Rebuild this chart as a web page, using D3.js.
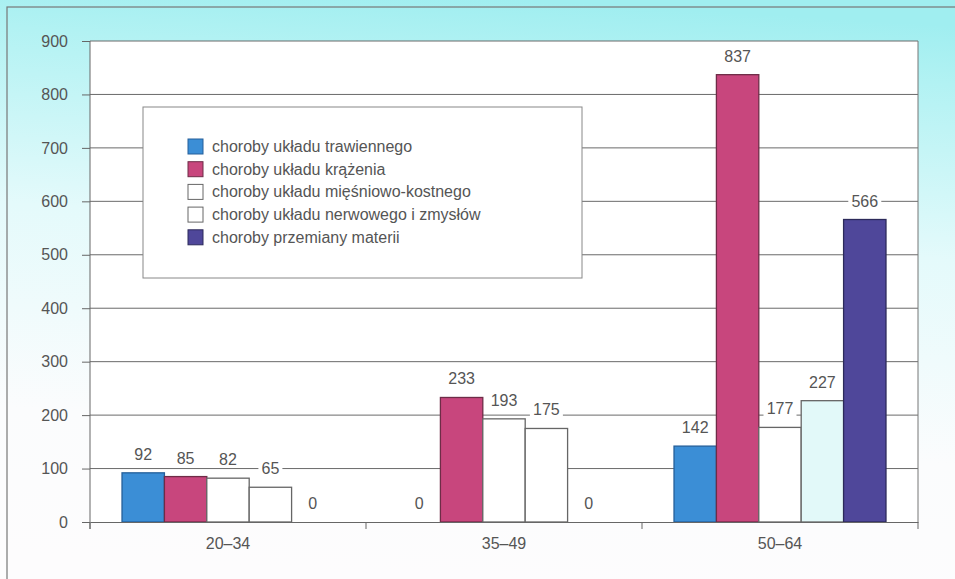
<!DOCTYPE html>
<html>
  <head>
    <meta charset="utf-8">
    <script src="https://d3js.org/d3.v7.min.js"></script>
    <style>
      body { margin: 0; background: #fff; }
      svg text {
        font-family: "Liberation Sans", Arial, sans-serif;
        font-size: 16px;
        fill: #555;
      }
    </style>
  </head>
  <body>
    <div id="chart"></div>
    <script>
      // age groups and disease series
      const groups = ["20–34", "35–49", "50–64"];
      const seriesNames = [
        "choroby układu trawiennego",
        "choroby układu krążenia",
        "choroby układu mięśniowo-kostnego",
        "choroby układu nerwowego i zmysłów",
        "choroby przemiany materii"
      ];
      const trawienny = [92, 0, 142];
      const krazenia = [85, 233, 837];
      const miesniowy = [82, 193, 177];
      const nerwowy = [65, 175, 227];
      const przemiana = [0, 0, 566];
      const yTicks = [0, 100, 200, 300, 400, 500, 600, 700, 800, 900];

      const seriesValues = [trawienny, krazenia, miesniowy, nerwowy, przemiana];
      const fills = ["#3b8ed6", "#c8467d", "#ffffff", "#ffffff", "#4f479a"];
      const strokes = ["#245f9a", "#6e2c47", "#666", "#666", "#2c2a5a"];

      const width = 955, height = 579;
      const margin = {left: 90, right: 37, top: 41, bottom: 57};

      const svg = d3.select("#chart").append("svg")
        .attr("width", width)
        .attr("height", height);

      // cyan wash fading to white
      const defs = svg.append("defs");
      const bg = defs.append("linearGradient")
        .attr("id", "bg")
        .attr("x1", 0.55).attr("y1", 0)
        .attr("x2", 0.45).attr("y2", 1);
      bg.append("stop").attr("offset", 0).attr("stop-color", "#a0eef0");
      bg.append("stop").attr("offset", 0.1).attr("stop-color", "#b2f2f3");
      bg.append("stop").attr("offset", 0.4).attr("stop-color", "#e4fafb");
      bg.append("stop").attr("offset", 0.75).attr("stop-color", "#fbfcfd");
      bg.append("stop").attr("offset", 1).attr("stop-color", "#fdfcfd");

      svg.append("rect")
        .attr("width", width).attr("height", height)
        .attr("fill", "url(#bg)");
      svg.append("rect")
        .attr("x", 7).attr("y", 7)
        .attr("width", 960).attr("height", 600)
        .attr("fill", "none")
        .attr("stroke", "#777")
        .attr("stroke-width", 1.2);

      const x0 = d3.scaleBand()
        .domain(groups)
        .range([margin.left, width - margin.right])
        .padding(0);
      const pad = x0.bandwidth() * 0.116;
      const x1 = d3.scaleBand()
        .domain(d3.range(seriesNames.length))
        .range([pad, x0.bandwidth() - pad]);
      const y = d3.scaleLinear()
        .domain([0, 900])
        .range([height - margin.bottom, margin.top]);

      const plotL = margin.left, plotR = width - margin.right;

      svg.append("rect")
        .attr("x", plotL).attr("y", y(900))
        .attr("width", plotR - plotL).attr("height", y(0) - y(900))
        .attr("fill", "#fff");

      // gridlines
      svg.append("g")
        .selectAll("line")
        .data(yTicks.filter(d => d > 0))
        .join("line")
          .attr("x1", plotL).attr("x2", plotR)
          .attr("y1", d => y(d)).attr("y2", d => y(d))
          .attr("stroke", "#6a6a6a")
          .attr("stroke-width", 1);
      svg.append("line")
        .attr("x1", plotR).attr("x2", plotR)
        .attr("y1", y(900)).attr("y2", y(0))
        .attr("stroke", "#777");

      // legend box
      const legend = svg.append("g").attr("transform", "translate(143,107)");
      legend.append("rect")
        .attr("width", 439).attr("height", 171)
        .attr("fill", "#fff")
        .attr("stroke", "#888");
      const items = legend.selectAll("g.item")
        .data(seriesNames)
        .join("g")
          .attr("class", "item")
          .attr("transform", (d, i) => `translate(45,${32 + i * 22.7})`);
      items.append("rect")
        .attr("width", 15).attr("height", 15)
        .attr("fill", (d, i) => fills[i])
        .attr("stroke", (d, i) => strokes[i]);
      items.append("text")
        .attr("x", 24).attr("y", 13)
        .text(d => d);

      // bars
      const groupG = svg.append("g")
        .selectAll("g")
        .data(groups)
        .join("g")
          .attr("transform", d => `translate(${x0(d)},0)`);

      const cells = groupG.selectAll("g.cell")
        .data((g, gi) => seriesValues.map((vals, si) => ({si, gi, v: vals[gi]})))
        .join("g")
          .attr("class", "cell");

      cells.filter(d => d.v > 0).append("rect")
        .attr("x", d => x1(d.si))
        .attr("width", x1.bandwidth())
        .attr("y", d => y(d.v))
        .attr("height", d => y(0) - y(d.v))
        // the scan tints the last white bar a little cyan
        .attr("fill", d => (d.si === 3 && d.gi === 2) ? "#e2f9f9" : fills[d.si])
        .attr("stroke", d => strokes[d.si])
        .attr("stroke-width", 1.3);

      // value labels, white backing hides the gridlines behind them
      cells.append("rect")
        .attr("x", d => x1(d.si) + x1.bandwidth() / 2 - String(d.v).length * 4.5 - 3)
        .attr("y", d => y(d.v) - 28)
        .attr("width", d => String(d.v).length * 9 + 6)
        .attr("height", 17)
        .attr("fill", "#fff");
      cells.append("text")
        .attr("x", d => x1(d.si) + x1.bandwidth() / 2)
        .attr("y", d => y(d.v) - 13)
        .attr("text-anchor", "middle")
        .text(d => d.v);

      // y axis
      const yAxis = svg.append("g")
        .attr("transform", `translate(${plotL},0)`)
        .call(d3.axisLeft(y).tickValues(yTicks).tickSize(8).tickPadding(14));
      yAxis.selectAll("line, path").attr("stroke", "#666");
      yAxis.selectAll("text").style("font-size", "16px").attr("fill", "#555");
      yAxis.select(".domain").attr("d", `M0,${y(0) + 7}V${y(900)}`);

      // x axis
      const xAxis = svg.append("g")
        .attr("transform", `translate(0,${y(0)})`)
        .call(d3.axisBottom(x0).tickSize(0).tickPadding(16));
      xAxis.select(".domain").attr("stroke", "#666");
      xAxis.selectAll("text").style("font-size", "16px").attr("fill", "#555");
      xAxis.selectAll("line.bound")
        .data(groups.map(g => x0(g)).concat([plotR]))
        .join("line")
          .attr("class", "bound")
          .attr("x1", d => d).attr("x2", d => d)
          .attr("y1", 0).attr("y2", 7)
          .attr("stroke", "#666");
    </script>
  </body>
</html>
